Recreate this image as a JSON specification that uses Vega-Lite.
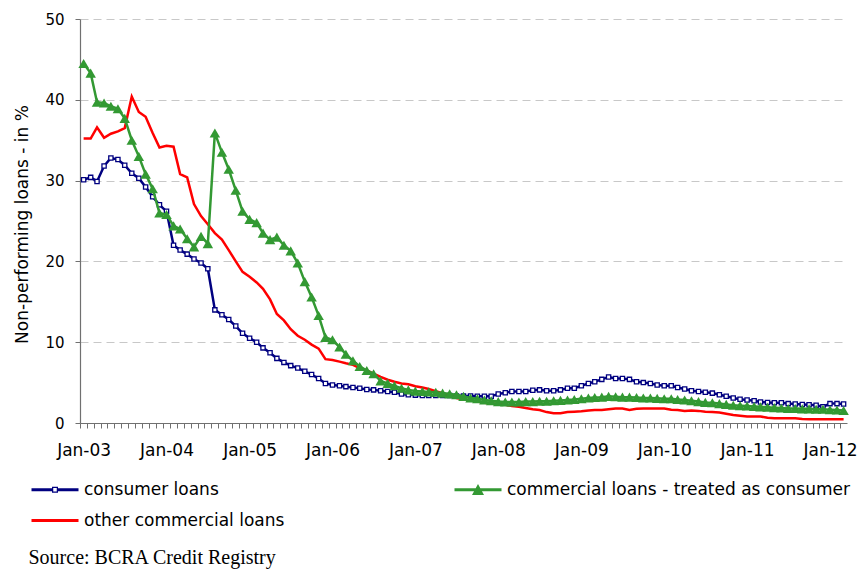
{
 "$schema": "https://vega.github.io/schema/vega-lite/v6.json",
 "width": 767,
 "height": 404,
 "autosize": {"type": "none"},
 "padding": {"left": 80, "top": 19, "right": 15, "bottom": 146},
 "background": "white",
 "config": {"view": {"stroke": null}, "font": "DejaVu Sans"},
 "data": {"values": [
  {"d":"2003-01","c":30.1,"g":44.5,"r":35.2},
  {"d":"2003-02","c":30.4,"g":43.3,"r":35.2},
  {"d":"2003-03","c":29.9,"g":39.7,"r":36.6},
  {"d":"2003-04","c":31.8,"g":39.6,"r":35.3},
  {"d":"2003-05","c":32.8,"g":39.2,"r":35.8},
  {"d":"2003-06","c":32.6,"g":38.9,"r":36.1},
  {"d":"2003-07","c":31.9,"g":37.7,"r":36.5},
  {"d":"2003-08","c":30.9,"g":35.0,"r":40.4},
  {"d":"2003-09","c":30.3,"g":33.0,"r":38.5},
  {"d":"2003-10","c":29.2,"g":30.8,"r":37.9},
  {"d":"2003-11","c":28.0,"g":29.0,"r":35.9},
  {"d":"2003-12","c":27.0,"g":26.0,"r":34.1},
  {"d":"2004-01","c":26.2,"g":25.8,"r":34.3},
  {"d":"2004-02","c":22.0,"g":24.4,"r":34.2},
  {"d":"2004-03","c":21.4,"g":24.0,"r":30.8},
  {"d":"2004-04","c":20.9,"g":22.8,"r":30.4},
  {"d":"2004-05","c":20.3,"g":21.8,"r":27.1},
  {"d":"2004-06","c":19.8,"g":23.1,"r":25.6},
  {"d":"2004-07","c":19.1,"g":22.2,"r":24.6},
  {"d":"2004-08","c":14.0,"g":35.9,"r":23.5},
  {"d":"2004-09","c":13.4,"g":33.5,"r":22.7},
  {"d":"2004-10","c":12.8,"g":31.4,"r":21.4},
  {"d":"2004-11","c":12.0,"g":28.8,"r":20.0},
  {"d":"2004-12","c":11.1,"g":26.2,"r":18.7},
  {"d":"2005-01","c":10.5,"g":25.2,"r":18.1},
  {"d":"2005-02","c":10.0,"g":24.8,"r":17.4},
  {"d":"2005-03","c":9.3,"g":23.5,"r":16.6},
  {"d":"2005-04","c":8.7,"g":22.7,"r":15.3},
  {"d":"2005-05","c":8.0,"g":23.0,"r":13.5},
  {"d":"2005-06","c":7.5,"g":22.0,"r":12.7},
  {"d":"2005-07","c":7.1,"g":21.3,"r":11.6},
  {"d":"2005-08","c":6.8,"g":19.8,"r":10.8},
  {"d":"2005-09","c":6.4,"g":17.5,"r":10.3},
  {"d":"2005-10","c":6.0,"g":15.6,"r":9.7},
  {"d":"2005-11","c":5.5,"g":13.3,"r":9.2},
  {"d":"2005-12","c":4.9,"g":10.6,"r":7.9},
  {"d":"2006-01","c":4.7,"g":10.3,"r":7.8},
  {"d":"2006-02","c":4.6,"g":9.4,"r":7.6},
  {"d":"2006-03","c":4.5,"g":8.5,"r":7.4},
  {"d":"2006-04","c":4.4,"g":7.7,"r":7.2},
  {"d":"2006-05","c":4.3,"g":7.0,"r":6.8},
  {"d":"2006-06","c":4.15,"g":6.5,"r":6.5},
  {"d":"2006-07","c":4.1,"g":6.1,"r":6.1},
  {"d":"2006-08","c":4.0,"g":5.2,"r":5.7},
  {"d":"2006-09","c":3.9,"g":4.9,"r":5.35},
  {"d":"2006-10","c":3.8,"g":4.6,"r":5.1},
  {"d":"2006-11","c":3.6,"g":4.3,"r":4.9},
  {"d":"2006-12","c":3.5,"g":4.1,"r":4.8},
  {"d":"2007-01","c":3.45,"g":3.95,"r":4.55},
  {"d":"2007-02","c":3.4,"g":3.9,"r":4.4},
  {"d":"2007-03","c":3.4,"g":3.85,"r":4.2},
  {"d":"2007-04","c":3.4,"g":3.8,"r":3.95},
  {"d":"2007-05","c":3.4,"g":3.7,"r":3.7},
  {"d":"2007-06","c":3.4,"g":3.6,"r":3.4},
  {"d":"2007-07","c":3.35,"g":3.5,"r":3.1},
  {"d":"2007-08","c":3.35,"g":3.3,"r":2.95},
  {"d":"2007-09","c":3.35,"g":3.1,"r":2.8},
  {"d":"2007-10","c":3.3,"g":3.0,"r":2.65},
  {"d":"2007-11","c":3.3,"g":2.85,"r":2.5},
  {"d":"2007-12","c":3.3,"g":2.75,"r":2.4},
  {"d":"2008-01","c":3.6,"g":2.65,"r":2.35},
  {"d":"2008-02","c":3.75,"g":2.6,"r":2.25},
  {"d":"2008-03","c":3.9,"g":2.6,"r":2.1},
  {"d":"2008-04","c":3.9,"g":2.6,"r":2.0},
  {"d":"2008-05","c":3.9,"g":2.65,"r":1.85},
  {"d":"2008-06","c":4.05,"g":2.65,"r":1.7},
  {"d":"2008-07","c":4.1,"g":2.7,"r":1.6},
  {"d":"2008-08","c":4.0,"g":2.7,"r":1.35},
  {"d":"2008-09","c":4.0,"g":2.75,"r":1.2},
  {"d":"2008-10","c":4.1,"g":2.8,"r":1.2},
  {"d":"2008-11","c":4.3,"g":2.85,"r":1.35},
  {"d":"2008-12","c":4.3,"g":2.9,"r":1.4},
  {"d":"2009-01","c":4.6,"g":3.0,"r":1.45},
  {"d":"2009-02","c":4.9,"g":3.1,"r":1.55},
  {"d":"2009-03","c":5.1,"g":3.15,"r":1.6},
  {"d":"2009-04","c":5.4,"g":3.2,"r":1.6},
  {"d":"2009-05","c":5.7,"g":3.3,"r":1.7},
  {"d":"2009-06","c":5.5,"g":3.25,"r":1.8},
  {"d":"2009-07","c":5.5,"g":3.2,"r":1.8},
  {"d":"2009-08","c":5.4,"g":3.2,"r":1.6},
  {"d":"2009-09","c":5.1,"g":3.15,"r":1.75},
  {"d":"2009-10","c":5.0,"g":3.1,"r":1.8},
  {"d":"2009-11","c":4.9,"g":3.1,"r":1.8},
  {"d":"2009-12","c":4.7,"g":3.05,"r":1.8},
  {"d":"2010-01","c":4.6,"g":3.0,"r":1.8},
  {"d":"2010-02","c":4.6,"g":3.0,"r":1.65},
  {"d":"2010-03","c":4.4,"g":2.9,"r":1.6},
  {"d":"2010-04","c":4.2,"g":2.85,"r":1.5},
  {"d":"2010-05","c":4.0,"g":2.75,"r":1.55},
  {"d":"2010-06","c":3.9,"g":2.65,"r":1.5},
  {"d":"2010-07","c":3.8,"g":2.55,"r":1.4},
  {"d":"2010-08","c":3.7,"g":2.5,"r":1.35},
  {"d":"2010-09","c":3.5,"g":2.4,"r":1.3},
  {"d":"2010-10","c":3.3,"g":2.3,"r":1.15},
  {"d":"2010-11","c":3.1,"g":2.2,"r":1.0},
  {"d":"2010-12","c":2.95,"g":2.15,"r":0.9},
  {"d":"2011-01","c":2.85,"g":2.1,"r":0.8},
  {"d":"2011-02","c":2.75,"g":2.05,"r":0.8},
  {"d":"2011-03","c":2.6,"g":2.0,"r":0.8},
  {"d":"2011-04","c":2.55,"g":1.95,"r":0.65},
  {"d":"2011-05","c":2.5,"g":1.9,"r":0.6},
  {"d":"2011-06","c":2.5,"g":1.85,"r":0.6},
  {"d":"2011-07","c":2.4,"g":1.8,"r":0.6},
  {"d":"2011-08","c":2.35,"g":1.8,"r":0.6},
  {"d":"2011-09","c":2.3,"g":1.75,"r":0.5},
  {"d":"2011-10","c":2.25,"g":1.75,"r":0.45},
  {"d":"2011-11","c":2.2,"g":1.7,"r":0.45},
  {"d":"2011-12","c":2.0,"g":1.7,"r":0.45},
  {"d":"2012-01","c":2.4,"g":1.65,"r":0.45},
  {"d":"2012-02","c":2.4,"g":1.6,"r":0.45},
  {"d":"2012-03","c":2.35,"g":1.55,"r":0.45}
 ]},
 "transform": [{"fold": ["c", "g", "r"], "as": ["k", "v"]}],
 "encoding": {
  "x": {
   "field": "d", "type": "temporal",
   "scale": {"type": "utc", "domain": [{"year": 2002, "month": 12, "date": 16, "utc": true}, {"year": 2012, "month": 3, "date": 16, "utc": true}]},
   "axis": {
    "title": "Source: BCRA Credit Registry",
    "titleFont": "Liberation Serif", "titleFontSize": 20, "titleFontWeight": "normal", "titleColor": "black",
    "titleAnchor": "start", "titleAlign": "left", "titleBaseline": "alphabetic", "titleX": -52, "titleY": 140,
    "tickCount": {"interval": "month", "step": 1},
    "tickOffset": -3.45, "labelOffset": 3.45,
    "labelExpr": "utcmonth(datum.value) == 0 ? utcFormat(datum.value, '%b-%y') : ''",
    "labelOverlap": false, "labelFlush": false, "labelBound": false,
    "labelFontSize": 17, "labelColor": "black", "labelPadding": 14,
    "tickSize": 5, "tickColor": "#707070", "domainColor": "#707070", "domainWidth": 1.2, "grid": false
   }
  },
  "y": {
   "field": "v", "type": "quantitative",
   "scale": {"domain": [0, 50], "nice": false},
   "axis": {
    "title": "Non-performing loans - in %", "values": [0, 10, 20, 30, 40, 50],
    "grid": true, "gridColor": "#c8c8c8", "gridDash": [8, 5], "gridWidth": 1,
    "tickSize": 5, "tickColor": "#707070", "domainColor": "#707070", "domainWidth": 1.2,
    "labelFontSize": 15, "labelColor": "black", "labelPadding": 11,
    "titleFontSize": 17, "titleFontWeight": "normal", "titleColor": "black",
    "titleAngle": 270, "titleBaseline": "middle", "titleAlign": "center", "titleX": -58, "titleY": 205
   }
  }
 },
 "layer": [
  {
   "transform": [{"filter": "datum.k == 'c'"}],
   "mark": {"type": "line", "strokeWidth": 2.5},
   "encoding": {
    "color": {
     "field": "k", "type": "nominal",
     "scale": {"domain": ["c", "g", "r"], "range": ["#000080", "#339933", "#ff0000"]},
     "legend": {
      "orient": "none", "legendX": -52, "legendY": 462, "direction": "horizontal", "columns": 2,
      "title": null, "padding": 0,
      "labelExpr": "datum.value == 'c' ? 'consumer loans' : datum.value == 'g' ? 'commercial loans - treated as consumer' : 'other commercial loans'",
      "labelFontSize": 17, "labelColor": "black", "labelLimit": 600, "labelOffset": 39,
      "symbolSize": 100, "symbolStrokeWidth": 0, "columnPadding": 166, "rowPadding": 13,
      "encode": {"symbols": {"update": {
       "shape": {"signal": "datum.value == 'c' ? 'M-1,-0.3L3.1,-0.3L3.1,0.3L-1,0.3ZM4.3,-0.3L8.4,-0.3L8.4,0.3L4.3,0.3ZM3.1,-0.6L4.3,-0.6L4.3,0.6L3.1,0.6ZM3.35,-0.35L3.35,0.35L4.05,0.35L4.05,-0.35Z' : datum.value == 'g' ? 'M-1,-0.3L8.4,-0.3L8.4,0.3L-1,0.3ZM3.7,-1.15L4.9,1.05L2.5,1.05Z' : 'M-1,-0.3L8.4,-0.3L8.4,0.3L-1,0.3Z'"},
       "fill": {"signal": "scale('color', datum.value)"},
       "stroke": {"value": "transparent"},
       "strokeWidth": {"value": 0},
       "opacity": {"value": 1}
      }}}
     }
    }
   }
  },
  {
   "transform": [{"filter": "datum.k == 'c'"}],
   "mark": {"type": "point", "shape": "square", "size": 18, "filled": false, "fill": "white", "stroke": "#000080", "strokeWidth": 1.3, "opacity": 1},
   "encoding": {}
  },
  {
   "transform": [{"filter": "datum.k == 'r'"}],
   "mark": {"type": "line", "strokeWidth": 2.5},
   "encoding": {"color": {"field": "k", "type": "nominal"}}
  },
  {
   "transform": [{"filter": "datum.k == 'g'"}],
   "mark": {"type": "line", "strokeWidth": 2.5},
   "encoding": {"color": {"field": "k", "type": "nominal"}}
  },
  {
   "transform": [{"filter": "datum.k == 'g'"}],
   "mark": {"type": "point", "shape": "triangle-up", "size": 110, "filled": true, "fill": "#339933", "stroke": null, "opacity": 1},
   "encoding": {}
  }
 ]
}
